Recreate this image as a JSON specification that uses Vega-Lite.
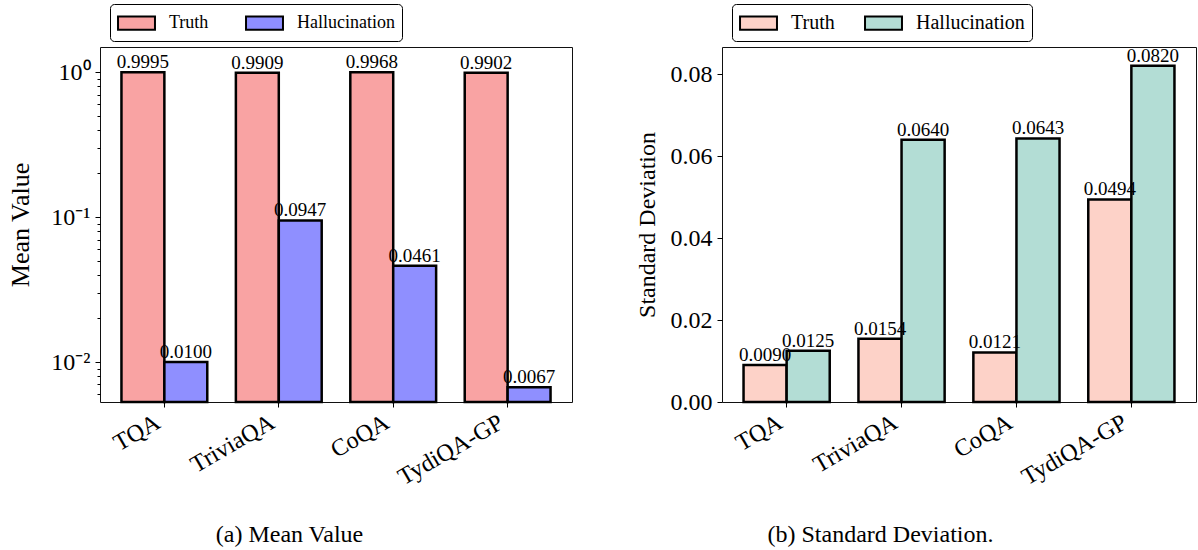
{
  "$schema": "https://vega.github.io/schema/vega-lite/v6.json",
  "padding": {"left": 6, "top": 3, "right": 0, "bottom": 0},
  "bounds": "flush",
  "spacing": 150,
  "background": "white",
  "config": {
    "font": "Liberation Serif",
    "view": {"stroke": "#111111", "strokeWidth": 1},
    "axis": {
      "labelFont": "Liberation Serif",
      "titleFont": "Liberation Serif",
      "labelColor": "black",
      "titleColor": "black",
      "tickColor": "black",
      "grid": false,
      "domain": false,
      "titleFontWeight": "normal",
      "labelOverlap": false,
      "labelFlush": false
    },
    "legend": {
      "orient": "none",
      "legendX": 10,
      "legendY": -43,
      "direction": "horizontal",
      "symbolType": "M-1.68,-0.6H1.68V0.6H-1.68Z",
      "symbolSize": 484,
      "symbolOffset": 7.5,
      "symbolStrokeColor": "black",
      "symbolStrokeWidth": 2,
      "symbolOpacity": 1,
      "labelFont": "Liberation Serif",
      "labelColor": "black",
      "padding": 7,
      "strokeColor": "black",
      "fillColor": "white",
      "cornerRadius": 4
    }
  },
  "data": {
    "values": [
      {"dataset": "TQA", "type": "Truth", "mean": 0.9995, "std": 0.0090},
      {"dataset": "TQA", "type": "Hallucination", "mean": 0.0100, "std": 0.0125},
      {"dataset": "TriviaQA", "type": "Truth", "mean": 0.9909, "std": 0.0154},
      {"dataset": "TriviaQA", "type": "Hallucination", "mean": 0.0947, "std": 0.0640},
      {"dataset": "CoQA", "type": "Truth", "mean": 0.9968, "std": 0.0121},
      {"dataset": "CoQA", "type": "Hallucination", "mean": 0.0461, "std": 0.0643},
      {"dataset": "TydiQA-GP", "type": "Truth", "mean": 0.9902, "std": 0.0494},
      {"dataset": "TydiQA-GP", "type": "Hallucination", "mean": 0.0067, "std": 0.0820}
    ]
  },
  "hconcat": [
    {
      "width": 472,
      "height": 355,
      "encoding": {
        "x": {
          "field": "dataset",
          "type": "nominal",
          "sort": ["TQA", "TriviaQA", "CoQA", "TydiQA-GP"],
          "scale": {"paddingInner": 0.25, "paddingOuter": 0.1875},
          "axis": {
            "title": "(a) Mean Value",
            "titleFontSize": 24,
            "titleX": 189,
            "titleY": 132,
            "titleAlign": "center",
            "titleBaseline": "middle",
            "labelAngle": -30,
            "labelAlign": "right",
            "labelBaseline": "top",
            "labelFontSize": 24,
            "labelPadding": 3,
            "labelOffset": -12,
            "tickSize": 5
          }
        },
        "xOffset": {
          "field": "type",
          "type": "nominal",
          "sort": ["Truth", "Hallucination"],
          "scale": {"paddingInner": 0, "paddingOuter": 0}
        },
        "y": {
          "field": "mean",
          "type": "quantitative",
          "scale": {"type": "log", "domain": [0.0053, 1.49], "nice": false},
          "axis": {
            "title": "Mean Value",
            "titleFontSize": 26,
            "titleX": -67,
            "titleY": 177.5,
            "titleAngle": 270,
            "titleAlign": "center",
            "titleBaseline": "bottom",
            "values": [0.006, 0.007, 0.008, 0.009, 0.01, 0.02, 0.03, 0.04, 0.05, 0.06, 0.07, 0.08, 0.09, 0.1, 0.2, 0.3, 0.4, 0.5, 0.6, 0.7, 0.8, 0.9, 1],
            "labelExpr": "datum.value == 1 ? '10⁰' : (datum.value == 0.1 ? '10⁻¹' : (datum.value == 0.01 ? '10⁻²' : ''))",
            "labelFontSize": 24,
            "labelPadding": 5,
            "tickSize": {"condition": {"test": "datum.value == 1 || datum.value == 0.1 || datum.value == 0.01", "value": 5}, "value": 3}
          }
        }
      },
      "layer": [
        {
          "mark": {"type": "bar", "stroke": "black", "strokeWidth": 2.5},
          "encoding": {
            "y2": {"datum": 0.0053},
            "color": {
              "field": "type",
              "type": "nominal",
              "sort": ["Truth", "Hallucination"],
              "scale": {"domain": ["Truth", "Hallucination"], "range": ["#F9A3A3", "#8F8FFF"]},
              "legend": {"title": null, "labelFontSize": 18, "labelOffset": 20.5, "columnPadding": 33}
            }
          }
        },
        {
          "mark": {"type": "text", "baseline": "alphabetic", "dy": -4, "fontSize": 19, "font": "Liberation Serif", "color": "black"},
          "encoding": {"text": {"field": "mean", "type": "quantitative", "format": ".4f"}}
        }
      ]
    },
    {
      "width": 474,
      "height": 355,
      "encoding": {
        "x": {
          "field": "dataset",
          "type": "nominal",
          "sort": ["TQA", "TriviaQA", "CoQA", "TydiQA-GP"],
          "scale": {"paddingInner": 0.25, "paddingOuter": 0.1875},
          "axis": {
            "title": "(b) Standard Deviation.",
            "titleFontSize": 24,
            "titleX": 158,
            "titleY": 132,
            "titleAlign": "center",
            "titleBaseline": "middle",
            "labelAngle": -30,
            "labelAlign": "right",
            "labelBaseline": "top",
            "labelFontSize": 24,
            "labelPadding": 3,
            "labelOffset": -12,
            "tickSize": 5
          }
        },
        "xOffset": {
          "field": "type",
          "type": "nominal",
          "sort": ["Truth", "Hallucination"],
          "scale": {"paddingInner": 0, "paddingOuter": 0}
        },
        "y": {
          "field": "std",
          "type": "quantitative",
          "scale": {"domain": [0, 0.0866], "nice": false, "zero": true},
          "axis": {
            "title": "Standard Deviation",
            "titleFontSize": 24,
            "titleX": -63,
            "titleY": 177.5,
            "titleAngle": 270,
            "titleAlign": "center",
            "titleBaseline": "bottom",
            "values": [0, 0.02, 0.04, 0.06, 0.08],
            "format": ".2f",
            "labelFontSize": 24,
            "labelPadding": 5,
            "tickSize": 5
          }
        }
      },
      "layer": [
        {
          "mark": {"type": "bar", "stroke": "black", "strokeWidth": 2.5},
          "encoding": {
            "color": {
              "field": "type",
              "type": "nominal",
              "sort": ["Truth", "Hallucination"],
              "scale": {"domain": ["Truth", "Hallucination"], "range": ["#FDD2C8", "#B3DDD5"]},
              "legend": {"title": null, "labelFontSize": 20, "labelOffset": 20.5, "columnPadding": 26}
            }
          }
        },
        {
          "mark": {"type": "text", "baseline": "alphabetic", "dy": -4, "fontSize": 19, "font": "Liberation Serif", "color": "black"},
          "encoding": {"text": {"field": "std", "type": "quantitative", "format": ".4f"}}
        }
      ]
    }
  ],
  "resolve": {
    "scale": {"color": "independent", "x": "independent", "y": "independent", "xOffset": "independent"},
    "legend": {"color": "independent"}
  }
}
